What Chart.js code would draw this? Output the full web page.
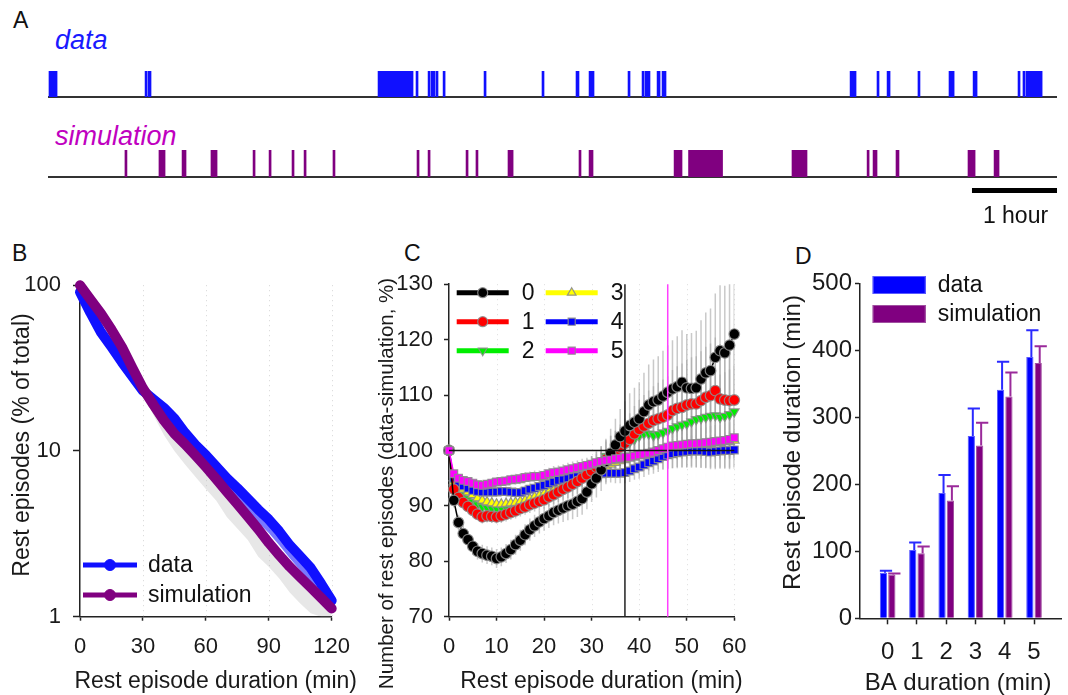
<!DOCTYPE html>
<html>
<head>
<meta charset="utf-8">
<script src="https://cdn.jsdelivr.net/npm/chart.js@4.4.1/dist/chart.umd.min.js"></script>
<style>
  body { margin: 0; background: #fff; width: 1068px; height: 695px; position: relative; overflow: hidden;
         font-family: 'Liberation Sans', Arial, sans-serif; }
  canvas { position: absolute; }
  .lbl { position: absolute; line-height: 1; white-space: nowrap; color: #111; }
</style>
</head>
<body>
<div class="lbl" style="left:13px;top:9px;font-size:23px">A</div>
<div class="lbl" style="left:55px;top:27px;font-size:27px;font-style:italic;color:#1a1aff">data</div>
<div class="lbl" style="left:55px;top:123px;font-size:27px;font-style:italic;color:#c000c0">simulation</div>
<div class="lbl" style="left:12px;top:242px;font-size:23px">B</div>
<div class="lbl" style="left:404px;top:242px;font-size:23px">C</div>
<div class="lbl" style="left:795px;top:245px;font-size:23px">D</div>

<canvas id="rowData" width="1009" height="40" style="left:48px;top:60px"></canvas>
<canvas id="rowSim" width="1009" height="90" style="left:48px;top:140px"></canvas>
<canvas id="chartB" width="365" height="435" style="left:0;top:260px"></canvas>
<canvas id="chartC" width="390" height="435" style="left:370px;top:260px"></canvas>
<canvas id="chartD" width="308" height="435" style="left:760px;top:260px"></canvas>

<script>
// ---- A: rest episodes over the recording (minutes from start) ----
const timeSpan = 712;
const dataEpisodes = [
  [0.7, 6.4], [68.5, 69.9], [70.6, 72.7], [232.9, 257.6], [259.7, 260.4],
  [268.2, 268.9], [270.3, 271], [271.7, 272.4], [273.8, 274.5], [278.8, 279.5],
  [307.7, 308.4], [348.6, 349.3], [372.6, 374.7], [381.8, 385.3], [409.3, 410],
  [419.2, 420.6], [421.3, 424.8], [429.8, 431.9], [433.3, 436.1], [566, 570.2],
  [585, 585.7], [592.1, 594.2], [613.9, 614.6], [635.8, 639.4], [652.8, 655.6],
  [684.5, 685.2], [688, 689.5], [690.2, 701.5]
];
const simEpisodes = [
  [54.3, 55], [78.3, 82.6], [94.6, 97.4], [115, 119.3], [144.7, 145.4],
  [156, 156.7], [172.2, 172.9], [180.7, 181.4], [201.1, 201.8], [260.4, 261.1],
  [268.2, 268.9], [295, 295.7], [302, 302.7], [324.6, 328.2], [374.7, 375.4],
  [381.8, 384.6], [441.8, 447.4], [452, 476], [525, 535.6], [578, 578.7],
  [582.2, 585], [598.4, 600.5], [649.2, 654.2], [667.6, 671.1]
];
const scaleBar = [652, 712];
const scaleBarLabel = '1 hour';

// ---- B: survival of rest episodes (log scale) ----
const bMinutes = [0, 5, 10, 15, 20, 25, 30, 35, 40, 45, 50, 55, 60, 65, 70, 75, 80, 85, 90, 95, 100, 105, 110, 115, 120];
const bData = [91, 68, 52, 42.4, 34.3, 28.1, 23.1, 20.5, 18.2, 15.7, 12.9, 10.9, 9.44, 8.05, 6.86, 5.97, 5.14, 4.43, 3.86, 3.27, 2.70, 2.31, 1.97, 1.58, 1.25];
const bDataLow = [84, 62, 47.5, 39, 31.5, 26, 21.3, 18.3, 15.8, 13.4, 11.0, 9.2, 7.9, 6.8, 5.8, 5.0, 4.3, 3.7, 3.2, 2.7, 2.25, 1.9, 1.62, 1.35, 1.15];
const bSim = [100, 82, 67.5, 54, 42.4, 31.7, 23.9, 19.0, 15.3, 12.7, 11.0, 9.4, 8.0, 6.76, 5.68, 4.78, 4.02, 3.37, 2.79, 2.35, 2.0, 1.73, 1.50, 1.30, 1.12];
const bSimLow = [100, 82, 67, 53.5, 42, 31.2, 22, 16.5, 12.5, 10, 8.3, 7.0, 5.9, 5.0, 4.0, 3.4, 2.9, 2.3, 2.0, 1.7, 1.4, 1.2, 1.05, 1.0, 1.0];
const bYTicks = [1, 10, 100];
const bXTicks = [0, 30, 60, 90, 120];

// ---- C: data/simulation ratio per BA duration ----
const cMinutes = Array.from({ length: 61 }, (_, i) => i);
const cSeriesNames = ['0', '1', '2', '3', '4', '5'];
const cBA0 = [100, 91, 87, 85, 83.9, 82.7, 81.8, 81.4, 81.1, 80.9, 80.5,
  80.8, 81.4, 82.1, 83, 83.8, 84.8, 85.7, 86.4, 87.1, 87.7,
  88.2, 88.8, 89.2, 89.6, 90, 90.3, 90.8, 91.3, 92.5, 94,
  95, 96.5, 98, 99.5, 101, 102.5, 103.5, 104.5, 105.1, 105.7,
  107, 108.2, 108.8, 109.1, 109.8, 110.5, 111.1, 111.5, 112.3, 111.3,
  111.2, 111.3, 112.9, 114, 114.4, 116.8, 118, 117.6, 119, 121];
const cBA1 = [100, 93, 91.5, 90.6, 89.9, 89.2, 88.5, 88, 88.2, 88.1, 88,
  88.2, 88.5, 88.8, 89.1, 89.5, 89.8, 90.2, 90.5, 90.8, 91.1,
  91.6, 92, 92.5, 93, 93.4, 93.9, 94.4, 95, 95.6, 96.3,
  97, 97.7, 98.4, 99.1, 99.8, 100.6, 101.3, 102, 103, 103.8,
  104.4, 104.9, 105.4, 105.7, 106, 106.4, 107.2, 107.6, 107.8, 108.2,
  108.4, 108.4, 109, 109.6, 109.9, 110.8, 109.3, 109.1, 109, 109.1];
const cBA2 = [100, 94, 92.7, 92, 91.3, 90.7, 90.2, 89.8, 89.6, 89.5, 89.5,
  89.6, 89.7, 89.9, 90.1, 90.3, 90.6, 90.9, 91.2, 91.5, 91.9,
  92.3, 92.7, 93.1, 93.6, 94, 94.5, 95, 95.6, 96.1, 96.7,
  97.3, 98.1, 99, 99.6, 100.2, 100.7, 101, 101.5, 102, 102.6,
  103, 103, 102.7, 102.9, 103.2, 103.5, 104, 104.3, 104.6, 104.8,
  105.2, 105.6, 105.8, 106, 106.2, 106.3, 106, 106.2, 106.5, 107];
const cBA3 = [100, 94.3, 93.5, 93, 92.5, 92, 91.4, 91, 90.7, 90.5, 90.3,
  90.3, 90.4, 90.5, 90.6, 90.8, 91, 91.3, 91.6, 91.9, 92.2,
  92.5, 92.8, 93.2, 93.5, 93.9, 94.3, 94.7, 95.1, 95.5, 95.9,
  96.3, 96.7, 97.1, 97.5, 97.8, 98.1, 98.3, 98.6, 98.8, 99,
  99.2, 99.4, 99.6, 99.8, 99.9, 100.1, 100.3, 100.4, 100.6, 100.7,
  100.8, 100.9, 101, 101.1, 101.2, 101.3, 101.4, 101.5, 101.6, 101.8];
const cBA4 = [100, 95, 94.2, 93.6, 93.2, 92.8, 92.6, 92.5, 92.5, 92.5, 92.5,
  92.6, 92.6, 92.5, 92.4, 92.4, 92.7, 93, 93.2, 93.5, 93.7,
  94, 94.3, 94.6, 94.8, 95, 95.2, 95.3, 95.4, 95.5, 95.6,
  95.7, 95.8, 95.9, 95.9, 95.9, 95.9, 96, 96.3, 96.7, 97,
  97.4, 97.8, 98.1, 98.5, 98.9, 99.2, 99.4, 99.6, 99.7, 99.8,
  99.9, 99.9, 99.9, 99.8, 99.7, 99.8, 99.9, 100, 100, 100.1];
const cBA5 = [100, 95.8, 95, 94.6, 94.4, 94.1, 93.8, 93.7, 93.9, 94.1, 94.3,
  94.4, 94.5, 94.7, 94.8, 94.9, 95.1, 95.2, 95.3, 95.3, 95.5,
  95.8, 96, 96.1, 96.3, 96.5, 96.7, 96.9, 97.1, 97.3, 97.5,
  97.8, 98, 98.2, 98.3, 98.5, 98.6, 98.8, 98.8, 99, 99.2,
  99.3, 99.5, 99.7, 100, 100.3, 100.6, 100.8, 100.9, 101, 101.1,
  101.2, 101.2, 101.3, 101.4, 101.5, 101.6, 101.7, 101.8, 102, 102.3];
const cErr0 = [0, 1.3, 1.4, 1.4, 1.5, 1.5, 1.5, 1.6, 1.6, 1.6, 1.7,
  1.7, 1.7, 1.8, 1.8, 1.9, 1.9, 2.0, 2.0, 2.1, 2.2,
  2.2, 2.3, 2.4, 2.5, 2.6, 2.7, 2.8, 2.9, 3.1, 3.3,
  3.5, 3.8, 4.1, 4.4, 4.7, 5.0, 5.4, 5.8, 6.2, 6.6,
  7.0, 7.3, 7.6, 7.9, 8.2, 8.5, 8.8, 9.1, 9.4, 9.7,
  10.0, 10.3, 10.6, 10.9, 11.2, 11.5, 11.8, 12.1, 12.4, 12.8];
const cErr1 = [0, 1.0, 1.0, 1.0, 1.1, 1.1, 1.1, 1.2, 1.2, 1.2, 1.2,
  1.3, 1.3, 1.3, 1.4, 1.4, 1.4, 1.5, 1.5, 1.6, 1.6,
  1.7, 1.7, 1.8, 1.9, 2.0, 2.1, 2.2, 2.3, 2.4, 2.6,
  2.8, 3.0, 3.2, 3.5, 3.8, 4.1, 4.4, 4.7, 5.0, 5.3,
  5.6, 5.9, 6.2, 6.5, 6.8, 7.0, 7.3, 7.6, 7.9, 8.1,
  8.4, 8.6, 8.9, 9.1, 9.4, 9.6, 9.9, 10.1, 10.4, 10.6];
const cErr2 = [0, 0.9, 0.9, 1.0, 1.0, 1.0, 1.0, 1.1, 1.1, 1.1, 1.1,
  1.2, 1.2, 1.2, 1.2, 1.3, 1.3, 1.3, 1.4, 1.4, 1.5,
  1.5, 1.6, 1.6, 1.7, 1.8, 1.9, 2.0, 2.1, 2.2, 2.3,
  2.5, 2.7, 2.9, 3.1, 3.3, 3.5, 3.7, 3.9, 4.1, 4.3,
  4.5, 4.7, 4.9, 5.1, 5.3, 5.5, 5.7, 5.9, 6.1, 6.3,
  6.5, 6.7, 6.9, 7.1, 7.3, 7.5, 7.7, 7.9, 8.1, 8.3];
const cErr3 = [0, 0.8, 0.8, 0.8, 0.9, 0.9, 0.9, 0.9, 1.0, 1.0, 1.0,
  1.0, 1.1, 1.1, 1.1, 1.1, 1.2, 1.2, 1.2, 1.3, 1.3,
  1.3, 1.4, 1.4, 1.5, 1.5, 1.6, 1.6, 1.7, 1.7, 1.8,
  1.9, 2.0, 2.1, 2.2, 2.3, 2.4, 2.5, 2.6, 2.7, 2.8,
  2.9, 3.0, 3.1, 3.2, 3.3, 3.4, 3.5, 3.6, 3.7, 3.8,
  3.9, 4.0, 4.1, 4.2, 4.3, 4.4, 4.5, 4.6, 4.7, 4.8];
const cErr4 = [0, 0.7, 0.7, 0.8, 0.8, 0.8, 0.8, 0.8, 0.9, 0.9, 0.9,
  0.9, 0.9, 1.0, 1.0, 1.0, 1.0, 1.1, 1.1, 1.1, 1.1,
  1.2, 1.2, 1.2, 1.3, 1.3, 1.3, 1.4, 1.4, 1.5, 1.5,
  1.6, 1.6, 1.7, 1.7, 1.8, 1.8, 1.9, 2.0, 2.0, 2.1,
  2.2, 2.2, 2.3, 2.4, 2.4, 2.5, 2.6, 2.6, 2.7, 2.8,
  2.8, 2.9, 3.0, 3.0, 3.1, 3.2, 3.2, 3.3, 3.4, 3.4];
const cErr5 = [0, 0.7, 0.7, 0.7, 0.8, 0.8, 0.8, 0.8, 0.8, 0.9, 0.9,
  0.9, 0.9, 0.9, 1.0, 1.0, 1.0, 1.0, 1.1, 1.1, 1.1,
  1.1, 1.2, 1.2, 1.2, 1.3, 1.3, 1.3, 1.4, 1.4, 1.5,
  1.5, 1.6, 1.6, 1.7, 1.7, 1.8, 1.8, 1.9, 1.9, 2.0,
  2.1, 2.1, 2.2, 2.2, 2.3, 2.4, 2.4, 2.5, 2.5, 2.6,
  2.7, 2.7, 2.8, 2.8, 2.9, 3.0, 3.0, 3.1, 3.1, 3.2];
const cRefX = [37, 46];
const cRefY = 100;
const cXTicks = [0, 10, 20, 30, 40, 50, 60];

// ---- D: mean rest episode duration by BA duration ----
const dCats = [0, 1, 2, 3, 4, 5];
const dData = [68, 102, 187, 272, 341, 390];
const dDataErr = [3, 11, 27, 41, 42, 40];
const dSim = [65, 97, 176, 258, 331, 381];
const dSimErr = [2, 10, 21, 34, 36, 25];

const BLUE = '#1010ff';
const PURPLE = '#800080';
const INK = '#1a1a1a';
const FONT = "'Liberation Sans', Arial, sans-serif";

Chart.defaults.font.family = FONT;
Chart.defaults.color = '#111';
Chart.defaults.animation = false;
Chart.defaults.responsive = false;
Chart.defaults.devicePixelRatio = 1;
Chart.defaults.plugins.legend.display = false;
Chart.defaults.plugins.tooltip.enabled = false;

const pts = (xs, ys) => ys.map((v, i) => ({ x: xs[i], y: v }));

// faint dotted vertical grid
const dotGrid = {
  id: 'dotGrid',
  beforeDatasetsDraw(chart, args, o) {
    const { ctx, chartArea: a, scales: { x } } = chart;
    ctx.save();
    ctx.strokeStyle = o.color;
    ctx.lineWidth = 1;
    ctx.setLineDash([1, 4]);
    o.values.forEach(v => {
      const px = Math.round(x.getPixelForValue(v)) + 0.5;
      ctx.beginPath(); ctx.moveTo(px, a.top); ctx.lineTo(px, a.bottom); ctx.stroke();
    });
    ctx.restore();
  }
};

// axis titles placed where the original has them (not clipped to axis length)
const axisTitles = {
  id: 'axisTitles',
  afterDraw(chart, args, o) {
    const ctx = chart.ctx;
    o.items.forEach(t => {
      ctx.save();
      ctx.font = t.size + 'px ' + FONT;
      ctx.fillStyle = INK;
      ctx.textAlign = 'center';
      ctx.textBaseline = t.vertical ? 'middle' : 'alphabetic';
      ctx.translate(t.x, t.y);
      if (t.vertical) ctx.rotate(-Math.PI / 2);
      ctx.fillText(t.text, 0, 0);
      ctx.restore();
    });
  }
};

// legend drawn as line + marker, like the original figure
const lineLegend = {
  id: 'lineLegend',
  afterDraw(chart, args, o) {
    const ctx = chart.ctx;
    o.items.forEach(it => {
      const ds = chart.data.datasets[it.index];
      ctx.save();
      ctx.strokeStyle = ds.borderColor;
      ctx.lineWidth = o.lineWidth;
      ctx.beginPath(); ctx.moveTo(it.x, it.y); ctx.lineTo(it.x + o.length, it.y); ctx.stroke();
      ctx.fillStyle = ds.pointBackgroundColor || ds.borderColor;
      ctx.strokeStyle = ds.pointBorderColor || ds.borderColor;
      ctx.lineWidth = ds.pointBorderWidth || 1;
      Chart.helpers.drawPoint(ctx, {
        pointStyle: ds.pointStyle || 'circle', radius: o.radius,
        borderWidth: ctx.lineWidth, rotation: ds.pointRotation || 0
      }, it.x + o.length / 2, it.y);
      ctx.fillStyle = '#111';
      ctx.font = o.font;
      ctx.textBaseline = 'middle';
      ctx.textAlign = 'left';
      ctx.fillText(ds.label, it.x + o.length + o.gap, it.y + 1);
      ctx.restore();
    });
  }
};

// ---------- A ----------
const scaleBarPlugin = {
  id: 'scaleBar',
  afterDraw(chart) {
    const { ctx, chartArea: a, scales: { x } } = chart;
    const x0 = x.getPixelForValue(scaleBar[0]);
    const x1 = x.getPixelForValue(scaleBar[1]);
    ctx.save();
    ctx.fillStyle = '#000';
    ctx.fillRect(x0, a.bottom + 11, x1 - x0, 5);
    ctx.font = '23px ' + FONT;
    ctx.textAlign = 'center';
    ctx.textBaseline = 'alphabetic';
    ctx.fillStyle = '#111';
    ctx.fillText(scaleBarLabel, (x0 + x1) / 2 + 1, a.bottom + 46);
    ctx.restore();
  }
};

function raster(id, episodes, color, padTop, axisH, extraPlugins) {
  return new Chart(document.getElementById(id), {
    type: 'bar',
    data: {
      labels: ['r'],
      datasets: [{
        data: episodes.map(e => ({ y: 'r', x: e })),
        backgroundColor: color, borderWidth: 0,
        barPercentage: 1, categoryPercentage: 1, minBarLength: 2
      }]
    },
    options: {
      indexAxis: 'y',
      layout: { padding: { top: padTop, left: 0, right: 0, bottom: 0 } },
      scales: {
        x: {
          type: 'linear', min: 0, max: timeSpan,
          ticks: { display: false },
          grid: { display: false },
          border: { color: '#333', width: 2 },
          afterFit: s => { s.height = axisH; }
        },
        y: { display: false }
      }
    },
    plugins: extraPlugins
  });
}
raster('rowData', dataEpisodes, BLUE, 11, 3, []);
raster('rowSim', simEpisodes, PURPLE, 10, 53, [scaleBarPlugin]);

// ---------- B ----------
new Chart(document.getElementById('chartB'), {
  type: 'line',
  data: {
    datasets: [
      { label: 'simulation', data: pts(bMinutes, bSim), borderColor: PURPLE, backgroundColor: PURPLE,
        pointBackgroundColor: PURPLE, borderWidth: 10, pointRadius: 0, borderJoinStyle: 'round',
        borderCapStyle: 'round', fill: false, clip: false, order: 0 },
      { label: 'data', data: pts(bMinutes, bData), borderColor: BLUE, backgroundColor: BLUE,
        pointBackgroundColor: BLUE, borderWidth: 10, pointRadius: 0, borderJoinStyle: 'round',
        borderCapStyle: 'round', fill: false, clip: false, order: 1 },
      { label: 'simulation low', data: pts(bMinutes, bSimLow), borderWidth: 0, pointRadius: 0,
        borderColor: 'rgba(0,0,0,0)', backgroundColor: 'rgba(185,185,185,0.35)', fill: { target: 0 }, order: 2 },
      { label: 'data low', data: pts(bMinutes, bDataLow), borderWidth: 0, pointRadius: 0,
        borderColor: 'rgba(0,0,0,0)', backgroundColor: 'rgba(30,30,255,0.6)', fill: { target: 1 }, order: 3 }
    ]
  },
  options: {
    layout: { padding: { top: 23.3, right: 33.3, left: 0, bottom: 0 } },
    scales: {
      x: {
        type: 'linear', min: 0, max: 120,
        afterBuildTicks: s => { s.ticks = bXTicks.map(v => ({ value: v })); },
        ticks: { font: { size: 22 }, padding: 12.6, color: INK },
        grid: { drawOnChartArea: false, tickLength: 4, tickColor: '#222', tickWidth: 1.5 },
        border: { color: '#222', width: 1.5 },
        afterFit: s => { s.height = 78.3; }
      },
      y: {
        type: 'logarithmic', min: 1, max: 100,
        afterBuildTicks: s => { s.ticks = bYTicks.map(v => ({ value: v })); },
        ticks: { font: { size: 22 }, padding: 12, color: INK, callback: v => String(v) },
        grid: { drawOnChartArea: false, tickLength: 7, tickColor: '#222', tickWidth: 1.5 },
        border: { color: '#222', width: 1.5 },
        afterFit: s => { s.width = 80; }
      }
    },
    plugins: {
      dotGrid: { values: [30, 60, 90, 120], color: '#d6d6d6' },
      axisTitles: { items: [
        { text: 'Rest episode duration (min)', size: 23, x: 215.7, y: 428 },
        { text: 'Rest episodes (% of total)', size: 23, x: 23, y: 185, vertical: true }
      ] },
      lineLegend: {
        lineWidth: 5, length: 54, radius: 5.5, gap: 11, font: '23px ' + FONT,
        items: [{ index: 1, x: 83, y: 305 }, { index: 0, x: 83, y: 335 }]
      }
    }
  },
  plugins: [dotGrid, axisTitles, lineLegend]
});

// ---------- C ----------
const errorBars = {
  id: 'errorBars',
  beforeDatasetsDraw(chart, args, o) {
    const { ctx, chartArea: a, scales: { x, y } } = chart;
    ctx.save();
    ctx.beginPath(); ctx.rect(a.left, a.top, a.width, a.height); ctx.clip();
    ctx.strokeStyle = o.color;
    ctx.lineWidth = o.width;
    chart.data.datasets.forEach(ds => {
      ds.data.forEach((p, i) => {
        const e = ds.errors[i];
        if (!e) return;
        const px = x.getPixelForValue(p.x);
        ctx.beginPath();
        ctx.moveTo(px, y.getPixelForValue(p.y - e));
        ctx.lineTo(px, y.getPixelForValue(p.y + e));
        ctx.stroke();
      });
    });
    ctx.restore();
  }
};
const refLines = {
  id: 'refLines',
  afterDatasetsDraw(chart, args, o) {
    const { ctx, chartArea: a, scales: { x, y } } = chart;
    ctx.save();
    ctx.lineWidth = 1.5;
    const py = y.getPixelForValue(o.y);
    ctx.strokeStyle = '#111';
    ctx.beginPath(); ctx.moveTo(a.left, py); ctx.lineTo(a.right, py); ctx.stroke();
    o.x.forEach((v, i) => {
      const px = x.getPixelForValue(v);
      ctx.strokeStyle = o.colors[i];
      ctx.beginPath(); ctx.moveTo(px, a.top); ctx.lineTo(px, a.bottom); ctx.stroke();
    });
    ctx.restore();
  }
};

const cValues = [cBA0, cBA1, cBA2, cBA3, cBA4, cBA5];
const cErrors = [cErr0, cErr1, cErr2, cErr3, cErr4, cErr5];
const cColors = ['#000000', '#ff0000', '#00ee00', '#ffff00', '#0000ff', '#ff00ff'];
const cStyles = ['circle', 'circle', 'triangle', 'triangle', 'rect', 'rect'];
const cRotations = [0, 0, 180, 0, 0, 0];
const cRadius = [5.3, 5.3, 5.5, 5.5, 5.5, 5.5];
const cOrder = [1, 2, 5, 4, 3, 0];

new Chart(document.getElementById('chartC'), {
  type: 'line',
  data: {
    datasets: cValues.map((vals, k) => ({
      label: cSeriesNames[k],
      data: pts(cMinutes, vals),
      errors: cErrors[k],
      borderColor: cColors[k], backgroundColor: cColors[k],
      pointBackgroundColor: cColors[k], pointBorderColor: 'rgba(140,140,140,0.9)', pointBorderWidth: 1.2,
      pointStyle: cStyles[k], pointRotation: cRotations[k], pointRadius: cRadius[k],
      borderWidth: 1.5, fill: false, clip: false, order: cOrder[k]
    }))
  },
  options: {
    layout: { padding: { top: 23.3, right: 25.7, left: 0, bottom: 0 } },
    scales: {
      x: {
        type: 'linear', min: 0, max: 60,
        afterBuildTicks: s => { s.ticks = cXTicks.map(v => ({ value: v })); },
        ticks: { font: { size: 22 }, padding: 12.6, color: INK },
        grid: { drawOnChartArea: false, tickLength: 4, tickColor: '#222', tickWidth: 1.5 },
        border: { color: '#222', width: 1.5 },
        afterFit: s => { s.height = 78.3; }
      },
      y: {
        type: 'linear', min: 70, max: 130,
        ticks: { stepSize: 10, font: { size: 22 }, padding: 11, color: INK },
        grid: { drawOnChartArea: false, tickLength: 5, tickColor: '#222', tickWidth: 1.5 },
        border: { color: '#222', width: 1.5 },
        afterFit: s => { s.width = 79; }
      }
    },
    plugins: {
      dotGrid: { values: [10, 20, 30, 40, 50, 60], color: '#dddddd' },
      errorBars: { color: 'rgba(165,165,165,0.6)', width: 1.5 },
      refLines: { y: cRefY, x: cRefX, colors: ['#222222', '#ff40ff'] },
      axisTitles: { items: [
        { text: 'Rest episode duration (min)', size: 23, x: 231.5, y: 428 },
        { text: 'Number of rest episodes (data-simulation, %)', size: 20.5, x: 17, y: 223.5, vertical: true }
      ] },
      lineLegend: {
        lineWidth: 5, length: 52, radius: 5, gap: 13, font: '23px ' + FONT,
        items: [
          { index: 0, x: 86.7, y: 32.7 }, { index: 1, x: 86.7, y: 61.7 }, { index: 2, x: 86.7, y: 90.7 },
          { index: 3, x: 175.7, y: 32.7 }, { index: 4, x: 175.7, y: 61.7 }, { index: 5, x: 175.7, y: 90.7 }
        ]
      }
    }
  },
  plugins: [dotGrid, errorBars, refLines, axisTitles, lineLegend]
});

// ---------- D ----------
const barErrors = {
  id: 'barErrors',
  afterDatasetsDraw(chart) {
    const { ctx, scales: { y } } = chart;
    chart.data.datasets.forEach((ds, i) => {
      const meta = chart.getDatasetMeta(i);
      ctx.save();
      ctx.strokeStyle = ds.errColor;
      ctx.lineWidth = 2;
      meta.data.forEach((bar, j) => {
        const top = y.getPixelForValue(ds.data[j].y + ds.errUp[j]);
        const half = bar.width / 2;
        const cx = bar.x + 1.5;
        ctx.beginPath();
        ctx.moveTo(cx, bar.y); ctx.lineTo(cx, top);
        ctx.moveTo(bar.x - half, top); ctx.lineTo(bar.x + half + 5, top);
        ctx.stroke();
      });
      ctx.restore();
    });
  }
};
const rectLegend = {
  id: 'rectLegend',
  afterDraw(chart, args, o) {
    const ctx = chart.ctx;
    o.items.forEach(it => {
      const ds = chart.data.datasets[it.index];
      ctx.save();
      ctx.fillStyle = ds.backgroundColor;
      ctx.fillRect(it.x, it.y, o.w, o.h);
      ctx.strokeStyle = ds.borderColor;
      ctx.lineWidth = 1;
      ctx.strokeRect(it.x + 0.5, it.y + 0.5, o.w - 1, o.h - 1);
      ctx.fillStyle = '#111';
      ctx.font = o.font;
      ctx.textBaseline = 'middle';
      ctx.fillText(ds.label, it.x + o.w + o.gap, it.y + o.h / 2 + 1);
      ctx.restore();
    });
  }
};

new Chart(document.getElementById('chartD'), {
  type: 'bar',
  data: {
    datasets: [
      { label: 'data', data: pts(dCats, dData), errUp: dDataErr, errColor: '#2a2aff',
        backgroundColor: '#0000ff', borderColor: '#5a5aff', borderWidth: 1,
        barPercentage: 0.87, categoryPercentage: 0.57 },
      { label: 'simulation', data: pts(dCats, dSim), errUp: dSimErr, errColor: '#9a2a9a',
        backgroundColor: '#800080', borderColor: '#a050a0', borderWidth: 1,
        barPercentage: 0.87, categoryPercentage: 0.57 }
    ]
  },
  options: {
    layout: { padding: { top: 23.3, right: 6.3, left: 0, bottom: 0 } },
    scales: {
      x: {
        type: 'linear', min: -0.945, max: 5.945, offset: false,
        afterBuildTicks: s => { s.ticks = dCats.map(v => ({ value: v })); },
        ticks: { font: { size: 24 }, padding: 14, color: INK },
        grid: { drawOnChartArea: false, offset: false, tickLength: 6, tickColor: '#222', tickWidth: 1.5 },
        border: { color: '#222', width: 1.5 },
        afterFit: s => { s.height = 76.7; }
      },
      y: {
        type: 'linear', min: 0, max: 500,
        ticks: { stepSize: 100, font: { size: 24 }, padding: 3, color: INK },
        grid: { drawOnChartArea: false, tickLength: 5, tickColor: '#222', tickWidth: 1.5 },
        border: { color: '#222', width: 1.5 },
        afterFit: s => { s.width = 100; }
      }
    },
    plugins: {
      axisTitles: { items: [
        { text: 'BA duration (min)', size: 24, x: 198, y: 430 },
        { text: 'Rest episode duration (min)', size: 24, x: 33, y: 182.5, vertical: true }
      ] },
      rectLegend: {
        w: 53, h: 18, gap: 12, font: '23px ' + FONT,
        items: [{ index: 0, x: 112.7, y: 16 }, { index: 1, x: 112.7, y: 45 }]
      }
    }
  },
  plugins: [barErrors, axisTitles, rectLegend]
});
</script>
</body>
</html>
